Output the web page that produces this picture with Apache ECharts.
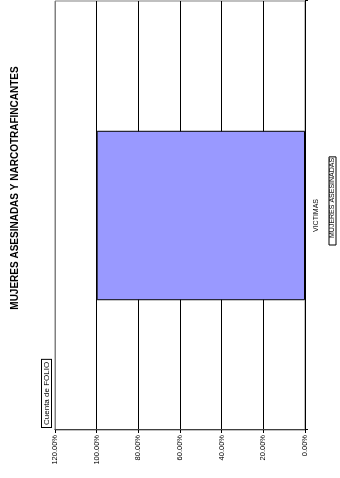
<!DOCTYPE html>
<html>
<head>
<meta charset="utf-8">
<script src="https://cdn.jsdelivr.net/npm/echarts@6/dist/echarts.min.js"></script>
<style>
    html, body { margin: 0; padding: 0; background: #fff; overflow: hidden; }
    /* the chart is drawn landscape and turned a quarter to the left */
    #chart {
        position: absolute; left: 0; top: 0;
        width: 478px; height: 340px;
        transform-origin: 0 0;
        transform: translateY(478px) rotate(-90deg);
    }
</style>
</head>
<body>
<div id="chart"></div>
<script>
var categories = ['VICTIMAS'];
var series_name = 'MUJERES ASESINADAS';
var values = [1];
var field_button = 'Cuenta de FOLIO';
var title_text = 'MUJERES ASESINADAS Y NARCOTRAFINCANTES';

var chart = echarts.init(document.getElementById('chart'));

var font = 'Arial, "Liberation Sans", sans-serif';

option = {
    backgroundColor: '#fff',
    animation: false,
    textStyle: { fontFamily: font },
    graphic: [{
        type: 'text',
        x: 290,
        y: 15,
        style: {
            text: title_text,
            font: 'bold 10px ' + font,
            fill: '#000',
            align: 'center',
            verticalAlign: 'middle'
        }
    }, {
        type: 'text',
        x: 51,
        y: 42,
        style: {
            text: field_button,
            font: '8px ' + font,
            fill: '#000',
            backgroundColor: '#fff',
            borderColor: '#000',
            borderWidth: 1,
            padding: [1, 2, 0, 2]
        }
    }],
    legend: {
        data: [series_name],
        left: 233,
        top: 329,
        icon: 'rect',
        itemWidth: 0,
        itemHeight: 0,
        itemGap: 0,
        padding: [0, 1, 0, 1],
        borderColor: '#000',
        borderWidth: 1,
        borderRadius: 0,
        textStyle: { fontSize: 7, color: '#000', padding: [0, 0, 0, 0] }
    },
    grid: {
        left: 48,
        right: 1,
        top: 55,
        bottom: 35,
        show: true,
        borderColor: '#808080',
        borderWidth: 1
    },
    xAxis: [{
        type: 'category',
        data: categories,
        axisLine: { lineStyle: { color: '#000' } },
        axisTick: { show: true, length: 3, lineStyle: { color: '#000' } },
        axisLabel: { fontSize: 7, color: '#000', margin: 8 }
    }],
    yAxis: [{
        type: 'value',
        min: 0,
        max: 1.2,
        interval: 0.2,
        axisLine: { show: true, lineStyle: { color: '#404040' } },
        axisTick: { show: true, length: 3, lineStyle: { color: '#000' } },
        axisLabel: {
            fontSize: 7.5,
            color: '#000',
            margin: 5,
            formatter: function (v) { return (v * 100).toFixed(2) + '%'; }
        },
        splitLine: {
            lineStyle: { color: ['#000', '#000', '#000', '#000', '#000', '#000', '#808080'] }
        }
    }],
    series: [{
        name: series_name,
        type: 'bar',
        barWidth: '39.5%',
        itemStyle: { color: '#9999ff', borderColor: '#000', borderWidth: 1 },
        data: values
    }]
};

chart.setOption(option);
</script>
</body>
</html>
